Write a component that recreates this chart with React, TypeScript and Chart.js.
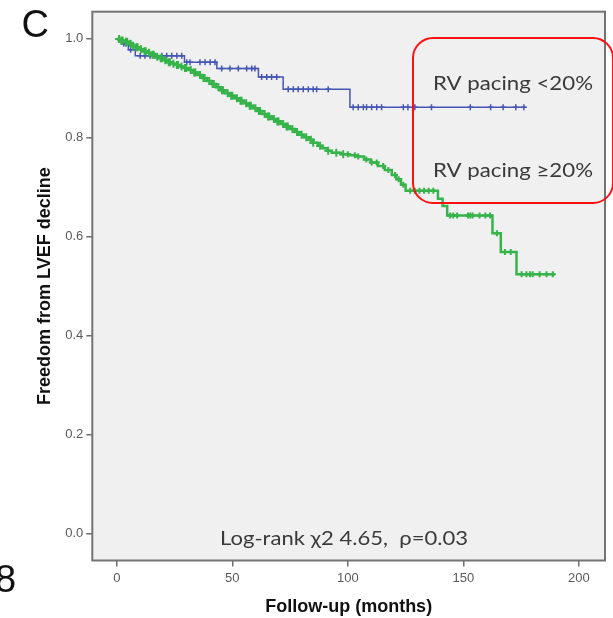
import React, { useEffect, useRef } from 'react';
import { Chart, registerables } from 'chart.js';

Chart.register(...registerables);

// ---- data ----
const xTicks = [0, 50, 100, 150, 200];
const yTicks = [0, 0.2, 0.4, 0.6, 0.8, 1.0];
const seriesNames = ['RV pacing <20%', 'RV pacing \u226520%'];
const statText = 'Log-rank \u03c72 4.65,  \u03c1=0.03';
const panelLabel = 'C';
const edgeLabel = '8';
const xTitle = 'Follow-up (months)';
const yTitle = 'Freedom from LVEF decline';

// RV pacing <20% (blue): Kaplan-Meier step times and survival
const blueTimes = [0, 2, 5, 8, 29.3, 43.3, 61.3, 72, 100.9, 177];
const blueSurv = [1.0, 0.99, 0.978, 0.966, 0.953, 0.94, 0.923, 0.898, 0.862, 0.862];
const blueCensor = [1, 3, 4, 6, 10.1, 12.2, 14.4, 16.6, 19.5, 21.6, 23.8, 26, 28.1, 30.3, 31.7, 36, 38.2, 40.4, 42.5,
  45.4, 49, 52.6, 56.2, 58.4, 59.8, 62.7, 64.9, 67, 69.2, 74.2, 76.4, 78.5, 80.7, 82.9, 85, 86.5, 91.5,
  102.3, 104.5, 106.7, 108.1, 110.3, 112.5, 114.6, 124, 126, 129, 136.2, 153, 161.8, 167.2, 172.7, 176.2];

// RV pacing >=20% (green)
const greenTimes = [0, 1.5, 3, 5, 6.5, 8, 10, 11.5, 13, 15, 17, 18.5, 20, 22, 24, 25.5, 27, 29, 31, 33, 35, 37,
  39, 41, 43, 45, 47, 49, 51, 53, 55, 57, 59, 61, 63, 65, 67, 69, 71, 73, 75, 77, 79, 81, 83, 85, 87, 89, 91,
  93, 97, 101, 104, 107, 110, 113, 116, 119, 121, 123, 125, 139, 141, 143, 162.6, 166.2, 173, 189.6];
const greenSurv = [1.0, 0.997, 0.994, 0.99, 0.986, 0.983, 0.979, 0.975, 0.972, 0.968, 0.964, 0.961, 0.957,
  0.953, 0.95, 0.947, 0.944, 0.941, 0.937, 0.932, 0.927, 0.921, 0.915, 0.909, 0.902, 0.896, 0.89, 0.885,
  0.88, 0.875, 0.87, 0.865, 0.86, 0.854, 0.848, 0.843, 0.838, 0.833, 0.828, 0.823, 0.818, 0.812, 0.806,
  0.801, 0.796, 0.79, 0.784, 0.779, 0.774, 0.77, 0.767, 0.765, 0.762, 0.756, 0.75, 0.743, 0.735, 0.725,
  0.716, 0.705, 0.693, 0.677, 0.662, 0.643, 0.607, 0.569, 0.524, 0.524];
const greenCensor = [1, 2, 2.5, 4, 4.5, 6, 7, 8.5, 9, 10.5, 12, 12.5, 14, 15.5, 16, 17.5, 19, 19.5, 21, 22.5,
  23, 24.5, 26, 26.5, 28, 29.5, 30, 32, 33.5, 34, 36, 37.5, 38, 40, 41.5, 42, 44, 45.5, 46, 48, 49.5, 50,
  52, 53.5, 54, 56, 57.5, 58, 60, 61.5, 62, 64, 65.5, 66, 68, 69.5, 70, 72, 73.5, 74, 76, 78, 80, 82, 84,
  85, 88, 91.5, 95, 98, 100, 103, 104.5, 108, 110.3, 112.5, 115.3, 117.5, 120.4, 122, 124, 127, 129, 131,
  133, 135, 137, 144.3, 145.6, 147.3, 152, 153, 154, 157, 159.5, 161.5, 164.5, 168, 170.5, 175.2, 177.3,
  178.8, 180, 183, 186, 188.7];

const BLUE = '#4455b4';
const GREEN = '#36b34a';
const W = 613;
const H = 618;

function survAt(times: number[], surv: number[], t: number) {
  let v = surv[0];
  for (let i = 0; i < times.length; i++) if (times[i] <= t) v = surv[i];
  return v;
}

function stretchText(ctx: CanvasRenderingContext2D, text: string, cx: number, baseY: number,
  font: string, targetW: number, color: string) {
  ctx.save();
  ctx.font = font;
  const m = ctx.measureText(text).width || 1;
  ctx.translate(cx, baseY);
  ctx.scale(targetW / m, 1);
  ctx.textAlign = 'center';
  ctx.textBaseline = 'alphabetic';
  ctx.fillStyle = color;
  ctx.fillText(text, 0, 0);
  ctx.restore();
}

export default function App() {
  const ref = useRef<HTMLCanvasElement>(null);
  useEffect(() => {
    document.body.style.margin = '0';
    const canvas = ref.current!;
    const framePlugin = {
      id: 'frameAndNotes',
      beforeDraw(chart: any) {
        const { ctx, chartArea: a } = chart;
        ctx.save();
        ctx.fillStyle = '#ffffff';
        ctx.fillRect(0, 0, chart.width, chart.height);
        ctx.fillStyle = '#f0f0f0';
        ctx.fillRect(a.left, a.top, a.right - a.left, a.bottom - a.top);
        ctx.restore();
      },
      afterDraw(chart: any) {
        const { ctx, chartArea: a } = chart;
        ctx.save();
        ctx.strokeStyle = '#747474';
        ctx.lineWidth = 2;
        ctx.strokeRect(a.left, a.top, a.right - a.left, a.bottom - a.top);
        // legend box
        ctx.strokeStyle = '#ff1010';
        ctx.lineWidth = 2;
        ctx.beginPath();
        (ctx as any).roundRect(413, 38, 200, 165, 20);
        ctx.stroke();
        ctx.restore();
        const f = '18.5px Lato, "Open Sans", sans-serif';
        stretchText(ctx, seriesNames[0], 513, 90, f, 160, '#3a3a3a');
        stretchText(ctx, seriesNames[1], 513, 176.7, f, 160, '#3a3a3a');
        stretchText(ctx, statText, 344, 545, '20px Lato, "Open Sans", sans-serif', 248, '#3a3a3a');
        ctx.save();
        ctx.fillStyle = '#111';
        ctx.font = '38px "Liberation Sans", Arial, sans-serif';
        ctx.textAlign = 'left';
        ctx.textBaseline = 'alphabetic';
        ctx.fillText(panelLabel, 21.5, 36.7);
        ctx.fillText(edgeLabel, -5, 591.7);
        ctx.restore();
      },
    };

    const chart = new Chart(canvas, {
      type: 'line',
      data: {
        datasets: [
          {
            label: seriesNames[1],
            data: greenTimes.map((t, i) => ({ x: t, y: greenSurv[i] })),
            stepped: true,
            borderColor: GREEN,
            borderWidth: 2.5,
            pointRadius: 0,
            fill: false,
          },
          {
            label: seriesNames[1] + ' censored',
            data: greenCensor.map((t) => ({ x: t, y: survAt(greenTimes, greenSurv, t) })),
            showLine: false,
            pointStyle: 'cross',
            pointRadius: (c: any) => (c.raw && c.raw.x < 100 ? 4 : 3),
            borderColor: GREEN,
            borderWidth: 2,
          },
          {
            label: seriesNames[0],
            data: blueTimes.map((t, i) => ({ x: t, y: blueSurv[i] })),
            stepped: true,
            borderColor: BLUE,
            borderWidth: 1.5,
            pointRadius: 0,
            fill: false,
          },
          {
            label: seriesNames[0] + ' censored',
            data: blueCensor.map((t) => ({ x: t, y: survAt(blueTimes, blueSurv, t) })),
            showLine: false,
            pointStyle: 'cross',
            pointRadius: 3,
            borderColor: BLUE,
            borderWidth: 1.5,
          },
        ],
      } as any,
      options: {
        responsive: false,
        animation: false,
        devicePixelRatio: 1,
        layout: { padding: { top: 11.7, right: 8, left: 0, bottom: 0 } },
        plugins: { legend: { display: false }, tooltip: { enabled: false } },
        scales: {
          x: {
            type: 'linear',
            min: -10.6,
            max: 211.3,
            afterBuildTicks: (s: any) => { s.ticks = xTicks.map((v) => ({ value: v })); },
            afterFit: (s: any) => { s.height = H - 560.5; },
            grid: { drawOnChartArea: false, drawTicks: true, tickLength: 6, color: '#6e6e6e', lineWidth: 1.5 },
            border: { display: false },
            ticks: {
              font: { family: '"Liberation Sans", Arial, sans-serif', size: 13 },
              color: '#5a5a5a', padding: 4, maxRotation: 0, autoSkip: false,
              callback: (v: any) => String(v),
            },
            title: {
              display: true, text: xTitle, color: '#111',
              font: { family: '"Liberation Sans", Arial, sans-serif', size: 18, weight: 'bold' },
              padding: { top: 0, bottom: 0.5 },
            },
          },
          y: {
            type: 'linear',
            min: -0.0546,
            max: 1.055,
            afterBuildTicks: (s: any) => { s.ticks = yTicks.map((v) => ({ value: v })); },
            afterFit: (s: any) => { s.width = 92.3; },
            grid: { drawOnChartArea: false, drawTicks: true, tickLength: 6, color: '#6e6e6e', lineWidth: 1.5 },
            border: { display: false },
            ticks: {
              font: { family: '"Liberation Sans", Arial, sans-serif', size: 13 },
              color: '#5a5a5a', padding: 3, autoSkip: false,
              callback: (v: any) => Number(v).toFixed(1),
            },
            title: {
              display: true, text: yTitle, color: '#111',
              font: { family: '"Liberation Sans", Arial, sans-serif', size: 18, weight: 'bold' },
              padding: { top: 34.2, bottom: 0 },
            },
          },
        },
      } as any,
      plugins: [framePlugin],
    });
    return () => chart.destroy();
  }, []);
  return (
    <div style={{ width: W, height: H, position: 'relative', overflow: 'hidden' }}>
      <canvas ref={ref} width={W} height={H} style={{ width: W, height: H, display: 'block' }} />
    </div>
  );
}
